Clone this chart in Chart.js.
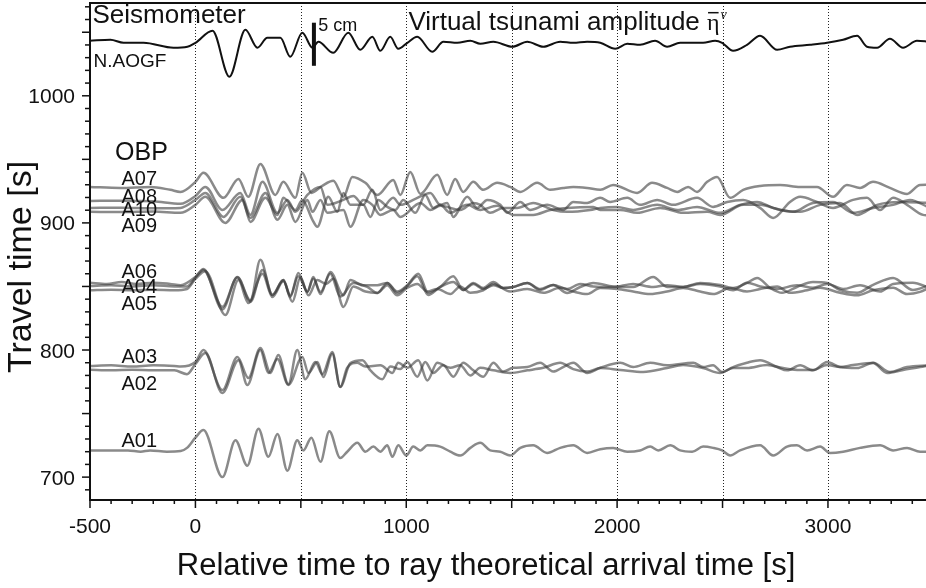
<!DOCTYPE html>
<html>
<head>
<meta charset="utf-8">
<script src="https://cdn.jsdelivr.net/npm/chart.js@4.4.1/dist/chart.umd.min.js"></script>
<style>
  html, body { margin: 0; padding: 0; background: #fff; }
  #wrap { width: 926px; height: 588px; }
</style>
</head>
<body>
<div id="wrap"><canvas id="waveChart" width="926" height="588"></canvas></div>
<script>
// 軸の範囲と目盛
const xMin = -500, xMax = 3465;
const yMin = 682, yMax = 1073;
const xTickLabels = [-500, 0, 1000, 2000, 3000];
const yTickLabels = [700, 800, 900, 1000];
const xGridLines = [0, 500, 1000, 1500, 2000, 2500, 3000];

// 地震計 N.AOGF  [time, travel time]
const aogf = [[-500,1043.3],[-403,1044.1],[-341,1041.7],[-246,1041.7],[-104,1037.8],[-38,1038.6],[0,1041.7],[81,1051.2],[161,1015],[237,1051.9],[294,1037.8],[341,1045.6],[403,1045.6],[450,1030.7],[507,1049.6],[555,1037.8],[583,1042.5],[654,1033.8],[725,1049.6],[782,1036.2],[839,1046.4],[877,1035.4],[924,1046.4],[962,1037],[1005,1041.7],[1052,1046.4],[1123,1034.6],[1176,1042.5],[1242,1041.7],[1304,1043.3],[1351,1040.9],[1413,1042.5],[1503,1038.6],[1574,1042.5],[1650,1038.6],[1730,1042.5],[1792,1041.7],[1858,1042.5],[1920,1041.7],[1991,1037],[2048,1040.9],[2109,1040.1],[2180,1043.3],[2237,1038.6],[2299,1041.7],[2356,1041.7],[2408,1041.7],[2465,1043.3],[2498,1041.7],[2550,1035.4],[2616,1040.1],[2678,1047.2],[2759,1036.2],[2820,1038.6],[2915,1040.1],[2996,1041.7],[3072,1044.1],[3138,1047.2],[3185,1038.6],[3233,1037.8],[3294,1044.9],[3356,1037.8],[3422,1043.3],[3480,1042.5]];
// 5 cm スケールバー
const scaleBar = [[562,1023.6],[562,1057.5]];

// 海底圧力計 OBP
const a07 = [[-500,928.3],[-356,927.5],[-213,928.3],[-119,926],[-71,924.4],[0,932.3],[38,939.4],[133,919.7],[204,934.6],[251,920.5],[308,946.4],[379,922],[417,932.3],[474,919.7],[507,939.4],[550,923.6],[600,929],[654,933.1],[702,920.5],[744,936.2],[806,931.5],[863,922],[938,933.8],[972,922],[1019,940.1],[1067,922.8],[1147,937.8],[1194,922],[1232,934.6],[1270,924.4],[1318,932.3],[1365,926],[1431,931.5],[1493,928.3],[1541,924.4],[1621,931.5],[1683,926],[1744,927.5],[1792,928.3],[1858,927.5],[1920,926],[1981,929.9],[2095,923.6],[2166,931.5],[2237,927.5],[2285,924.4],[2337,928.3],[2379,924.4],[2427,932.3],[2474,936.2],[2536,919.7],[2598,926],[2678,929.1],[2773,929.9],[2868,928.3],[2948,928.3],[3024,920.5],[3090,929.9],[3152,927.5],[3214,932.3],[3294,927.5],[3375,922.8],[3437,929.9],[3480,930]];
const a08 = [[-500,917.3],[-350,917.5],[-200,917],[-71,915],[0,921.2],[47,928.3],[128,910.2],[213,923.6],[261,906.3],[318,932.3],[389,907.9],[436,918.1],[474,908.7],[531,922],[593,928.3],[626,914.2],[702,918.1],[749,921.2],[796,914.2],[839,926],[877,910.2],[938,919.7],[972,914.2],[1043,918.9],[1114,923.6],[1161,914.2],[1194,915.7],[1223,904.7],[1289,920.5],[1337,911.8],[1384,918.1],[1446,914.2],[1479,907.9],[1541,916.5],[1588,910.2],[1668,914.2],[1744,910.2],[1792,916.5],[1858,915.7],[1920,919.7],[1967,916.5],[2048,919.7],[2109,914.2],[2190,918.1],[2266,914.2],[2379,919.7],[2455,912.6],[2522,916.5],[2598,918.1],[2678,911.8],[2740,903.9],[2820,916.5],[2868,920.5],[2948,916.5],[3024,911.8],[3119,918.1],[3185,919.7],[3247,910.2],[3309,919.7],[3375,914.2],[3451,906.3],[3480,906]];
const a10 = [[-500,911.8],[-350,912],[-200,911.5],[-71,911.8],[0,918.1],[47,923.6],[133,904.7],[213,920.5],[261,903.9],[332,923.6],[389,902.4],[436,914.2],[474,900.8],[531,918.1],[555,908.7],[593,918.1],[626,907.9],[702,910.2],[735,896.9],[796,918.1],[839,914.2],[877,906.3],[938,910.2],[972,904.7],[1067,915.7],[1114,910.2],[1161,913.4],[1256,910.2],[1318,915.7],[1351,914.2],[1398,907.9],[1460,911.8],[1526,911.8],[1602,915.7],[1697,910.2],[1763,908.7],[1872,910.2],[1920,911.8],[2000,912.6],[2076,910.2],[2190,914.2],[2285,910.2],[2379,912.6],[2489,907.9],[2583,914.2],[2664,916.5],[2740,911.8],[2834,908.7],[2929,915.7],[3024,916.5],[3119,907.9],[3214,911.8],[3309,914.2],[3389,918.1],[3480,912]];
const a09 = [[-500,908.7],[-350,908.5],[-200,909],[-71,907.9],[0,914.2],[47,920.5],[142,900],[223,918.1],[261,900.8],[332,919.7],[389,906.3],[417,919.7],[474,910.2],[507,918.1],[555,902.4],[578,896.9],[630,920.5],[673,908.7],[702,923.6],[735,914.2],[796,914.2],[830,904.7],[867,918.1],[910,912.6],[948,910.2],[986,918.1],[1043,907.9],[1090,922],[1128,911.8],[1161,914.2],[1209,907.9],[1289,914.2],[1351,910.2],[1431,913.4],[1507,906.3],[1602,906.3],[1683,910.2],[1763,911.8],[1887,912.6],[1920,910.2],[2015,910.2],[2095,907.9],[2204,911.8],[2313,907.9],[2427,908.7],[2489,906.3],[2598,914.2],[2678,914.2],[2773,910.2],[2868,908.7],[2963,914.2],[3057,915.7],[3138,906.3],[3233,914.2],[3342,916.5],[3480,915.7]];
const a06 = [[-500,853],[-420,852],[-350,853.5],[-280,852],[-200,853],[-120,852],[-70,851],[0,857.5],[38,863.8],[128,832],[199,857.5],[261,839],[308,871],[365,843.3],[417,855.1],[450,841.7],[488,860.6],[531,845.7],[559,857.5],[593,844],[640,861.4],[702,843],[735,855.1],[792,851],[863,851],[910,852.8],[957,846],[1005,851],[1057,860],[1104,845],[1161,849.6],[1223,858],[1270,847.2],[1318,852.8],[1365,848.8],[1413,853.5],[1460,848.8],[1507,849.6],[1574,852.8],[1635,848],[1697,851.2],[1763,844.9],[1825,849.6],[1887,852.8],[1981,850],[2076,849.6],[2171,857.5],[2237,849.6],[2313,849.6],[2394,852.8],[2489,851.2],[2550,848.8],[2616,852.8],[2664,856.7],[2726,848.8],[2782,845],[2853,849.6],[2929,853.5],[2996,852.8],[3057,847.2],[3138,845],[3214,851.2],[3309,856.7],[3403,847.2],[3480,851]];
const a04 = [[-500,850.4],[-400,851],[-300,850],[-200,851],[-100,850],[-40,850],[0,857],[38,863],[128,834],[199,857],[261,838],[318,863],[365,843.3],[417,855],[450,843],[488,858],[531,846],[559,856],[593,845.7],[640,860],[687,842],[749,852.8],[815,849.6],[863,844.9],[910,852.8],[957,844.9],[1005,850.4],[1052,858],[1104,843.3],[1161,849.6],[1223,853.5],[1270,847.2],[1318,852],[1365,848],[1413,851],[1460,848.8],[1507,849.6],[1574,852.8],[1635,847.2],[1697,851.2],[1763,848],[1825,852],[1887,850],[1981,849.6],[2076,852],[2171,849.6],[2237,851],[2313,849.6],[2394,852],[2489,850],[2550,847],[2616,853],[2678,850],[2759,848],[2853,851],[2929,849],[2996,852],[3072,848],[3152,851],[3247,846],[3309,852],[3403,853],[3480,849]];
const a05 = [[-500,847],[-400,847.5],[-300,847],[-200,847.5],[-100,847],[-40,848],[0,856],[47,862],[142,827.6],[204,855],[251,837],[318,860],[365,841.7],[417,854],[460,838],[498,857],[536,843],[578,855],[620,852],[654,856],[702,833.9],[749,850],[806,846],[863,844.9],[910,851],[957,843],[1005,849],[1052,852],[1100,846],[1147,848],[1209,844],[1256,850],[1304,845],[1365,847],[1413,852],[1493,846],[1574,848],[1650,845],[1730,849],[1792,846],[1858,844],[1920,848.8],[2000,848],[2076,846],[2157,844],[2237,846],[2313,848.8],[2394,846],[2455,844],[2536,848.8],[2616,846],[2678,848],[2759,850],[2820,845],[2901,847],[2963,849],[3057,845],[3138,843],[3214,847],[3309,849],[3375,844],[3437,845.7],[3480,849]];
const a03 = [[-500,787.5],[-400,788],[-300,787],[-200,788],[-100,787.5],[-70,787],[0,790.6],[38,800],[128,768.5],[199,794.5],[251,778],[308,801.6],[356,782],[393,796],[441,773],[483,800],[521,777],[569,790.6],[602,781],[649,798.4],[687,771],[735,789.8],[792,792],[830,784],[886,777],[924,787],[972,785],[1005,790.6],[1052,779],[1090,790.6],[1128,782],[1176,788],[1223,779],[1270,790],[1318,784],[1365,779],[1413,790],[1460,783],[1507,786],[1574,786.6],[1635,790],[1697,783],[1744,786.6],[1792,790],[1858,782],[1920,786],[2015,790],[2076,786.6],[2157,790],[2237,788],[2361,790],[2408,786.6],[2455,788],[2498,782.7],[2550,786.6],[2616,790],[2678,792],[2759,786.6],[2806,784],[2868,788],[2929,784],[2996,790.6],[3057,786.6],[3138,785.8],[3214,790],[3294,782.7],[3375,786.6],[3480,788]];
const a02 = [[-500,784.5],[-400,784],[-300,784.5],[-200,784],[-100,784],[-40,781],[0,789],[47,797.6],[128,766.2],[204,792],[246,772.5],[308,800],[346,781.9],[389,793],[441,772.5],[507,794.5],[536,781.9],[578,790.6],[607,778.7],[649,797],[687,770.9],[720,786],[768,790],[806,787],[877,788],[934,782],[962,790],[1005,786],[1057,792],[1100,776],[1147,790],[1209,786],[1256,788],[1304,780],[1351,786],[1413,784],[1493,782],[1574,784],[1650,786],[1730,790],[1792,785],[1858,783],[1920,785.8],[2015,784.3],[2124,782.7],[2237,785.8],[2313,788.2],[2408,785.8],[2489,781.9],[2550,785.8],[2616,785.8],[2711,788.2],[2787,785.8],[2868,784.3],[2929,784.3],[2996,788.2],[3057,786.6],[3119,788.2],[3214,789.8],[3280,781.9],[3356,784.3],[3437,786.6],[3480,788]];
const a01 = [[-500,721],[-320,721],[-260,720],[-215,721],[-135,720],[-70,720.5],[-40,723],[0,731],[38,737],[128,700],[190,729],[246,709],[299,738],[346,716],[389,734],[436,705],[483,729],[512,721],[550,731],[593,712],[635,736],[687,715],[720,720],[768,727],[806,720],[844,724],[877,720],[910,725],[934,716],[962,725],[1000,717],[1033,724],[1067,721],[1100,725],[1161,724],[1209,720],[1256,717],[1304,723],[1351,727],[1398,721],[1446,720],[1493,717],[1541,723],[1602,725],[1668,719],[1730,723],[1792,725],[1858,719],[1920,722],[1981,723],[2048,720],[2109,721],[2157,724],[2195,721],[2252,725],[2299,721],[2356,720],[2408,724],[2455,723],[2498,721],[2536,717],[2583,721],[2678,725],[2740,717],[2806,724],[2853,725],[2901,721],[2963,724],[3010,719],[3072,720],[3152,723],[3247,725],[3309,721],[3375,723],[3437,720],[3480,720]];

const obpNames = ['A01', 'A02', 'A03', 'A04', 'A05', 'A06', 'A07', 'A08', 'A09', 'A10'];
const obpSeries = [a01, a02, a03, a04, a05, a06, a07, a08, a09, a10];

// 注記テキスト（データ座標）
const annotations = [
    { text: 'Seismometer', x: -488, y: 1057.5, font: '26px "Liberation Sans", Arial, sans-serif' },
    { text: 'N.AOGF', x: -483, y: 1022.8, font: '19px "Liberation Sans", Arial, sans-serif' },
    { text: '5 cm', x: 583, y: 1051.2, font: '18px "Liberation Sans", Arial, sans-serif' },
    { text: 'OBP', x: -256, y: 949.6, font: '25px "Liberation Sans", Arial, sans-serif', align: 'center' },
    { text: 'A07', x: -351, y: 930.0 },
    { text: 'A08', x: -351, y: 915.8 },
    { text: 'A10', x: -351, y: 905.6 },
    { text: 'A09', x: -351, y: 893.0 },
    { text: 'A06', x: -351, y: 856.8 },
    { text: 'A04', x: -351, y: 845.0 },
    { text: 'A05', x: -351, y: 831.6 },
    { text: 'A03', x: -351, y: 789.8 },
    { text: 'A02', x: -351, y: 768.6 },
    { text: 'A01', x: -351, y: 723.8 }
];
const amplitudeLabel = { x: 1010, y: 1052 };

const sans = '"Liberation Sans", Arial, sans-serif';
const toPoints = arr => arr.map(([x, y]) => ({ x, y }));

// 枠・目盛・文字を描くプラグイン
const overlayPlugin = {
    id: 'overlay',
    beforeDatasetsDraw(chart) {
        const { ctx, chartArea: a, scales: { x } } = chart;
        ctx.save();
        ctx.strokeStyle = '#222';
        ctx.lineWidth = 1;
        ctx.setLineDash([1, 2]);
        xGridLines.forEach(v => {
            const px = Math.round(x.getPixelForValue(v)) + 0.5;
            ctx.beginPath();
            ctx.moveTo(px, a.top);
            ctx.lineTo(px, a.bottom);
            ctx.stroke();
        });
        ctx.restore();
    },
    afterDatasetsDraw(chart) {
        const { ctx, chartArea: a, scales: { x, y } } = chart;
        ctx.save();
        // 枠線
        ctx.strokeStyle = '#111';
        ctx.lineWidth = 2;
        ctx.beginPath();
        ctx.moveTo(a.right + 2, a.top);
        ctx.lineTo(a.left, a.top);
        ctx.lineTo(a.left, a.bottom);
        ctx.lineTo(a.right + 2, a.bottom);
        ctx.stroke();
        // 目盛
        ctx.lineWidth = 1.5;
        for (let v = xMin; v <= xMax; v += 100) {
            const px = x.getPixelForValue(v);
            const len = v % 500 === 0 ? 8 : 4;
            ctx.beginPath();
            ctx.moveTo(px, a.bottom);
            ctx.lineTo(px, a.bottom + len);
            ctx.stroke();
        }
        for (let v = 690; v <= 1070; v += 10) {
            const py = y.getPixelForValue(v);
            const len = v % 50 === 0 ? 8 : 5;
            ctx.beginPath();
            ctx.moveTo(a.left - len, py);
            ctx.lineTo(a.left, py);
            ctx.stroke();
        }
        // 目盛ラベル
        ctx.fillStyle = '#111';
        ctx.font = '21px ' + sans;
        ctx.textBaseline = 'alphabetic';
        ctx.textAlign = 'center';
        xTickLabels.forEach(v => ctx.fillText(String(v), x.getPixelForValue(v), a.bottom + 33));
        ctx.textAlign = 'right';
        yTickLabels.forEach(v => ctx.fillText(String(v), a.left - 15, y.getPixelForValue(v) + 7.5));
        // 注記
        ctx.textBaseline = 'alphabetic';
        annotations.forEach(n => {
            ctx.font = n.font || '20px ' + sans;
            ctx.textAlign = n.align || 'left';
            ctx.fillText(n.text, x.getPixelForValue(n.x), y.getPixelForValue(n.y));
        });
        // 仮想津波振幅ラベル
        ctx.textAlign = 'left';
        let lx = x.getPixelForValue(amplitudeLabel.x);
        const ly = y.getPixelForValue(amplitudeLabel.y);
        ctx.font = '26px ' + sans;
        const head = 'Virtual tsunami amplitude ';
        ctx.fillText(head, lx, ly);
        lx += ctx.measureText(head).width;
        ctx.font = '24px "Liberation Serif", "DejaVu Serif", serif';
        ctx.fillText('\u03B7', lx, ly);
        const ew = ctx.measureText('\u03B7').width;
        ctx.lineWidth = 1.5;
        ctx.beginPath();
        ctx.moveTo(lx + 1, ly - 17);
        ctx.lineTo(lx + ew - 1, ly - 17);
        ctx.stroke();
        ctx.font = 'italic 14px "Liberation Serif", "DejaVu Serif", serif';
        ctx.fillText('v', lx + ew + 1, ly - 11);
        // 軸タイトル
        ctx.font = '31px ' + sans;
        ctx.textAlign = 'center';
        ctx.textBaseline = 'middle';
        ctx.fillText('Relative time to ray theoretical arrival time [s]', 486, 566);
        ctx.font = '34px ' + sans;
        ctx.translate(22, 267);
        ctx.rotate(-Math.PI / 2);
        ctx.fillText('Travel time [s]', 0, 0);
        ctx.restore();
    }
};

const datasets = obpSeries.map((s, i) => ({
    label: obpNames[i],
    data: toPoints(s),
    borderColor: 'rgba(60,60,60,0.6)',
    borderWidth: 2.5
}));
datasets.push({
    label: 'N.AOGF',
    data: toPoints(aogf),
    borderColor: '#111',
    borderWidth: 2
});
datasets.push({
    label: '5 cm',
    data: toPoints(scaleBar),
    borderColor: '#111',
    borderWidth: 4,
    cubicInterpolationMode: 'default',
    tension: 0
});

const ctx = document.getElementById('waveChart').getContext('2d');
new Chart(ctx, {
    type: 'line',
    data: { datasets },
    options: {
        responsive: false,
        animation: false,
        devicePixelRatio: 1,
        layout: { padding: { top: 3, right: 0, left: 0, bottom: 0 }, autoPadding: false },
        elements: {
            point: { radius: 0 },
            line: { cubicInterpolationMode: 'monotone', fill: false }
        },
        plugins: { legend: { display: false }, tooltip: { enabled: false } },
        scales: {
            x: {
                type: 'linear',
                min: xMin,
                max: xMax,
                afterFit: s => { s.height = 88; },
                grid: { display: false, drawTicks: false },
                border: { display: false },
                ticks: { display: false }
            },
            y: {
                type: 'linear',
                min: yMin,
                max: yMax,
                afterFit: s => { s.width = 90; },
                grid: { display: false, drawTicks: false },
                border: { display: false },
                ticks: { display: false }
            }
        }
    },
    plugins: [overlayPlugin]
});
</script>
</body>
</html>
